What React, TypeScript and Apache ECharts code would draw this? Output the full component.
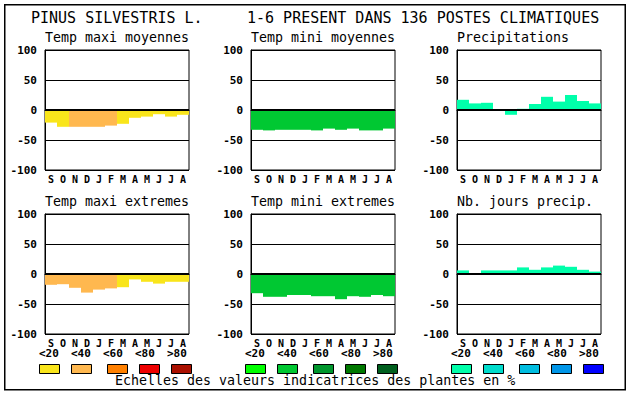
import React, { useEffect, useRef } from "react";
import * as echarts from "echarts";

const months = ["S", "O", "N", "D", "J", "F", "M", "A", "M", "J", "J", "A"];

const mainTitleLeft = "PINUS SILVESTRIS L.";
const mainTitleRight = "1-6 PRESENT DANS 136 POSTES CLIMATIQUES";
const footerText = "Echelles des valeurs indicatrices des plantes en %";

const panelTitles = [
  "Temp maxi moyennes",
  "Temp mini moyennes",
  "Precipitations",
  "Temp maxi extremes",
  "Temp mini extremes",
  "Nb. jours precip.",
];

const tempMaxiMoy = [-21, -28, -28, -28, -28, -26, -23, -13, -11, -7, -11, -8];
const tempMiniMoy = [-33, -34, -33, -33, -33, -34, -31, -33, -31, -34, -34, -31];
const precip = [17, 11, 12, 0, -8, 2, 10, 22, 14, 25, 15, 11];
const tempMaxiExt = [-18, -17, -23, -31, -26, -24, -22, -9, -13, -16, -13, -13];
const tempMiniExt = [-32, -38, -38, -35, -35, -37, -37, -42, -37, -38, -35, -37];
const joursPrecip = [6, 0, 6, 6, 6, 11, 7, 11, 14, 12, 7, 4];

// colour class (0..4) per month
const classMaxiMoy = [0, 0, 1, 1, 1, 1, 0, 0, 0, 0, 0, 0];
const classMiniMoy = [1, 1, 1, 1, 1, 1, 1, 1, 1, 1, 1, 1];
const classPrecip = [0, 0, 0, 0, 0, 0, 0, 0, 0, 0, 0, 0];
const classMaxiExt = [1, 1, 1, 1, 1, 1, 0, 0, 0, 0, 0, 0];
const classMiniExt = [1, 1, 1, 1, 1, 1, 1, 1, 1, 1, 1, 1];
const classJours = [0, 0, 0, 0, 0, 0, 0, 0, 0, 0, 0, 0];

const scaleLabels = ["<20", "<40", "<60", "<80", ">80"];
const paletteWarm = ["#f9e51b", "#ffb84f", "#ff8000", "#ee0000", "#aa1000"];
const paletteGreen = ["#00ff00", "#00c832", "#00962d", "#007800", "#005f1e"];
const paletteCyan = ["#00ffaa", "#00dccc", "#00bde0", "#0096e8", "#0000ff"];

const yTicks = [-100, -50, 0, 50, 100];

const MONO = "'DejaVu Sans Mono', 'Liberation Mono', monospace";

export default function App() {
  const ref = useRef<HTMLDivElement>(null);

  useEffect(() => {
    document.body.style.margin = "0";
    if (!ref.current) return;
    const chart = echarts.init(ref.current, undefined, { renderer: "svg" });

    const panels = [
      { values: tempMaxiMoy, classes: classMaxiMoy, palette: paletteWarm },
      { values: tempMiniMoy, classes: classMiniMoy, palette: paletteGreen },
      { values: precip, classes: classPrecip, palette: paletteCyan },
      { values: tempMaxiExt, classes: classMaxiExt, palette: paletteWarm },
      { values: tempMiniExt, classes: classMiniExt, palette: paletteGreen },
      { values: joursPrecip, classes: classJours, palette: paletteCyan },
    ];
    const colLeft = [45, 251, 457];
    const rowTop = [50, 214];
    const plotW = 144;
    const plotH = 120;

    const grids: any[] = [];
    const xAxes: any[] = [];
    const yAxes: any[] = [];
    const series: any[] = [];
    const graphics: any[] = [];

    panels.forEach((p, i) => {
      const col = i % 3;
      const row = Math.floor(i / 3);
      grids.push({
        left: colLeft[col],
        top: rowTop[row],
        width: plotW,
        height: plotH,
        show: true,
        borderColor: "#000",
        borderWidth: 1,
        backgroundColor: "#fff",
      });
      xAxes.push({
        type: "category",
        gridIndex: i,
        data: months,
        axisTick: { show: false },
        axisLine: { show: true, lineStyle: { color: "#000", width: 1 } },
        axisLabel: {
          interval: 0,
          margin: 4,
          color: "#000",
          fontFamily: MONO,
          fontWeight: "bold",
          fontSize: 10,
        },
      });
      yAxes.push({
        type: "value",
        gridIndex: i,
        min: yTicks[0],
        max: yTicks[yTicks.length - 1],
        interval: 50,
        axisTick: { show: false },
        axisLine: { show: true, lineStyle: { color: "#000", width: 1 } },
        splitLine: { show: true, lineStyle: { color: "#000", width: 1 } },
        axisLabel: {
          margin: 8,
          color: "#000",
          fontFamily: MONO,
          fontWeight: "bold",
          fontSize: 11,
        },
      });
      series.push({
        type: "bar",
        xAxisIndex: i,
        yAxisIndex: i,
        barCategoryGap: "0%",
        z: 1,
        data: p.values.map((v, k) => ({
          value: v,
          itemStyle: { color: p.palette[p.classes[k]] },
        })),
        markLine: {
          silent: true,
          symbol: "none",
          label: { show: false },
          lineStyle: { color: "#000", width: 2, type: "solid" },
          data: [{ yAxis: 0 }],
          z: 5,
        },
      });

      // panel title
      graphics.push({
        type: "text",
        left: colLeft[col],
        top: rowTop[row] - 19,
        style: {
          text: panelTitles[i],
          fill: "#000",
          font: `13.3px ${MONO}`,
        },
      });

      // scale legend under bottom row
      if (row === 1) {
        const base = 39 + col * 206;
        const labelOffsets = [0, 32, 64, 96, 128];
        const boxOffsets = [0, 32, 68, 100, 132];
        scaleLabels.forEach((lab, k) => {
          graphics.push({
            type: "text",
            left: base + labelOffsets[k],
            top: 348,
            style: {
              text: lab,
              fill: "#000",
              font: `bold 11px ${MONO}`,
            },
          });
          graphics.push({
            type: "rect",
            shape: { x: base + boxOffsets[k] + 0.5, y: 364.5, width: 20, height: 9 },
            style: { fill: p.palette[k], stroke: "#000", lineWidth: 1 },
          });
        });
      }
    });

    graphics.push(
      {
        type: "rect",
        shape: { x: 4.75, y: 4.75, width: 620.5, height: 385 },
        style: { fill: "none", stroke: "#000", lineWidth: 1.5 },
        z: 10,
      },
      {
        type: "text",
        left: 31,
        top: 10,
        style: { text: mainTitleLeft, fill: "#000", font: `15px ${MONO}` },
      },
      {
        type: "text",
        left: 247,
        top: 10,
        style: { text: mainTitleRight, fill: "#000", font: `15px ${MONO}` },
      },
      {
        type: "text",
        left: 115,
        top: 374,
        style: { text: footerText, fill: "#000", font: `13.3px ${MONO}` },
      }
    );

    chart.setOption({
      animation: false,
      backgroundColor: "#fff",
      grid: grids,
      xAxis: xAxes,
      yAxis: yAxes,
      series,
      graphic: graphics,
    });

    return () => chart.dispose();
  }, []);

  return <div ref={ref} style={{ width: 630, height: 394 }} />;
}
